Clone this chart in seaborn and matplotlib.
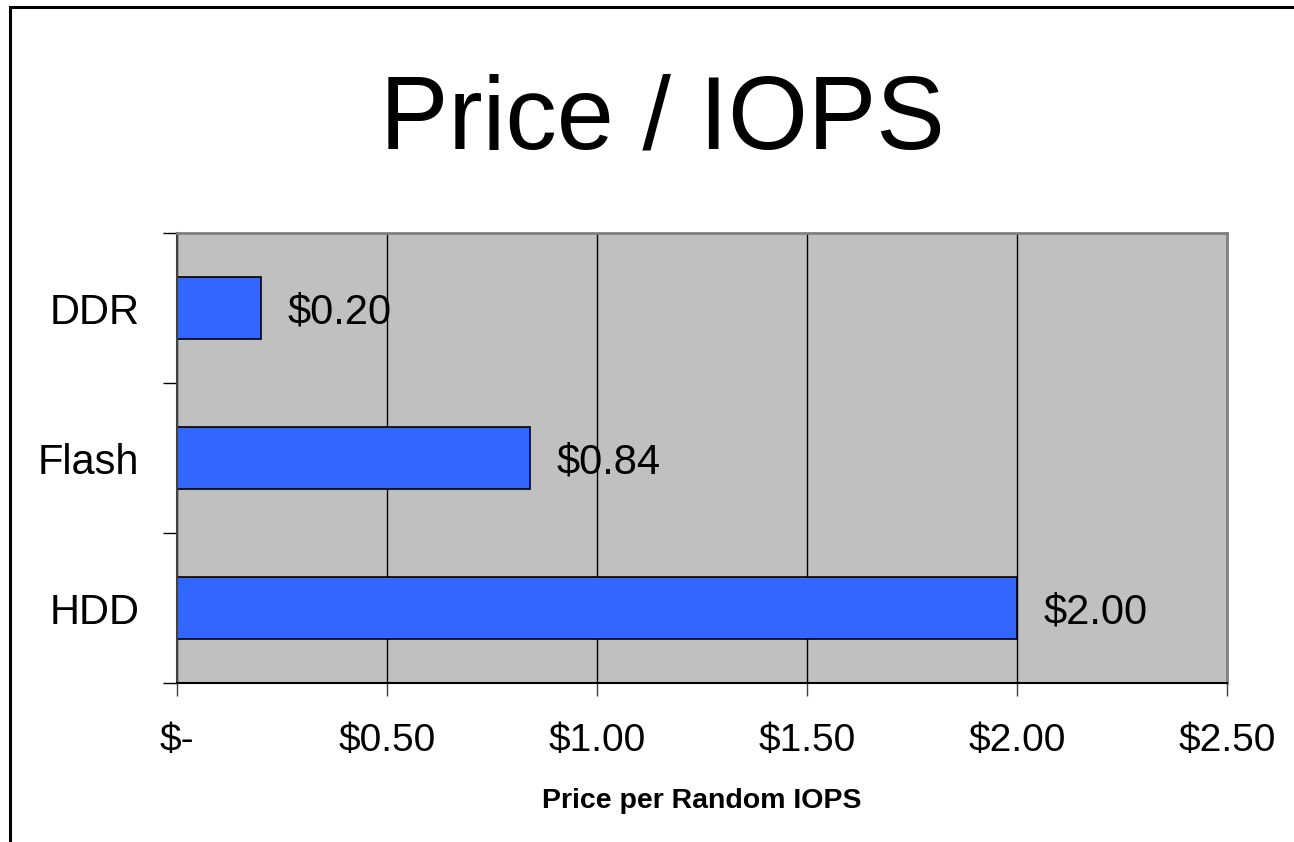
import numpy as np
import pandas as pd
import matplotlib
matplotlib.use("Agg")
import matplotlib.pyplot as plt
from matplotlib.patches import Rectangle
import seaborn as sns

# dados
categorias = ["DDR", "Flash", "HDD"]
precos = [0.20, 0.84, 2.00]
rotulos_valor = ["$0.20", "$0.84", "$2.00"]
x_ticks = [0.0, 0.5, 1.0, 1.5, 2.0, 2.5]
x_tick_labels = ["$-", "$0.50", "$1.00", "$1.50", "$2.00", "$2.50"]

df = pd.DataFrame({"tipo": categorias, "preco": precos})

sns.set_style("white")
plt.rcParams["font.family"] = ["Liberation Sans", "DejaVu Sans"]
plt.rcParams["text.color"] = "black"
plt.rcParams["xtick.color"] = "black"
plt.rcParams["ytick.color"] = "black"
plt.rcParams["axes.labelcolor"] = "black"

fig = plt.figure(figsize=(12.94, 8.42), dpi=100)
ax = fig.add_axes([177 / 1294, 1 - 683 / 842, 1050 / 1294, 450 / 842])

sns.barplot(data=df, x="preco", y="tipo", order=categorias, orient="h",
            color="#3366FF", saturation=1, edgecolor="black", linewidth=1.2,
            width=0.41, ax=ax)

ax.set_facecolor("#C0C0C0")
ax.set_xlim(0, 2.5)
ax.set_ylim(2.5, -0.5)
ax.set_axisbelow(True)
ax.xaxis.grid(True, color="black", linewidth=1)
ax.yaxis.grid(False)

ax.set_xticks(x_ticks)
ax.set_xticklabels(x_tick_labels, fontsize=28)
ax.tick_params(axis="x", bottom=True, direction="out", length=9, width=1,
               color="#404040", pad=20)

ax.set_yticks(range(len(categorias)))
ax.set_yticklabels(categorias, fontsize=30)
ax.tick_params(axis="y", which="major", left=True, length=0, pad=27)
ax.set_yticks(np.arange(-0.5, len(categorias), 1), minor=True)
ax.tick_params(axis="y", which="minor", left=True, direction="out", length=10,
               width=1, color="black")

for s in ["top", "right"]:
    ax.spines[s].set_color("#808080")
    ax.spines[s].set_linewidth(2)
ax.spines["left"].set_color("#404040")
ax.spines["left"].set_linewidth(1.5)
ax.spines["bottom"].set_color("black")
ax.spines["bottom"].set_linewidth(1.5)

for i, (v, r) in enumerate(zip(precos, rotulos_valor)):
    ax.annotate(r, (v, i), xytext=(19, -11), textcoords="offset points",
                ha="left", va="baseline", fontsize=30)

ax.set_xlabel("Price per Random IOPS", fontsize=20.5, fontweight="bold", labelpad=21)
ax.set_ylabel("")

fig.text(662 / 1294, 1 - 148 / 842, "Price / IOPS", ha="center", va="baseline", fontsize=74)

fig.patches.append(Rectangle((9.5 / 1294, -0.05), 1.1, 1 - 6.5 / 842 + 0.05,
                             transform=fig.transFigure, fill=False,
                             edgecolor="black", linewidth=2.2, zorder=10))

fig.savefig("out.png", dpi=100, facecolor="white")
